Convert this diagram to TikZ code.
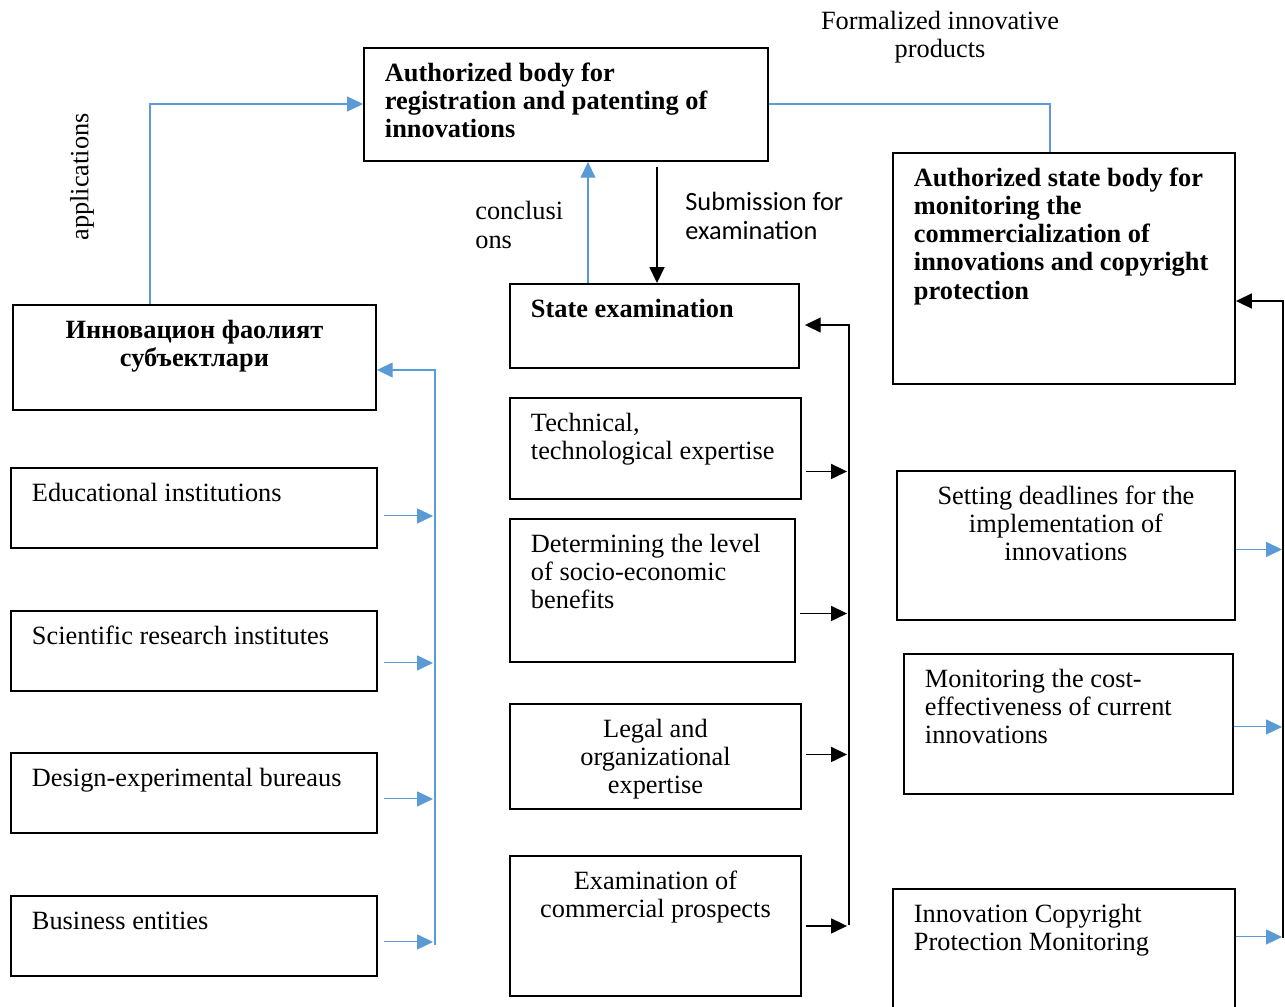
\documentclass[tikz,border=0pt]{standalone}
\usepackage{fontspec}
\setmainfont{Liberation Serif}
\newfontfamily\calibri{Carlito}
\usetikzlibrary{arrows.meta,calc}
\definecolor{lineblue}{RGB}{91,155,213}
\newlength{\px}\setlength{\px}{0.02cm}
% box text: width and height of the box in px, then the text
\newcommand{\bx}[3]{\parbox[t][\dimexpr#2\px-28\px\relax][t]{\dimexpr#1\px-42\px\relax}{\strut#3}}
\begin{document}
\begin{tikzpicture}[x=0.02cm, y=-0.02cm,
    every node/.style={font=\fontsize{15}{16}\selectfont},
    box/.style={draw, line width=1.1pt, anchor=north west, inner xsep=0.42cm, inner ysep=0.28cm},
    hbox/.style={box, font=\fontsize{15}{16}\selectfont\bfseries},
    lab/.style={inner sep=0pt, align=left},
    kline/.style={line width=0.8pt},
    bline/.style={lineblue, line width=0.6pt},
    arr/.style={-{Triangle[length=9pt,width=8.5pt]}}]
  \useasboundingbox (0,0) rectangle (1285,1007);

  % top boxes
  \node[hbox] (reg) at (363,47) {\bx{404}{113}{Authorized body for\\registration and patenting of\\innovations}};
  \node[hbox] (stb) at (892,152) {\bx{342}{231}{Authorized state body for\\monitoring the\\commercialization of\\innovations and copyright\\protection}};

  % left column
  \node[hbox] (subj) at (12,304) {\bx{363}{105}{\centering Инновацион фаолият\\субъектлари}};
  \node[box] (edu) at (10,467) {\bx{366}{80}{Educational institutions}};
  \node[box] (sci) at (10,610) {\bx{366}{80}{Scientific research institutes}};
  \node[box] (des) at (10,752) {\bx{366}{80}{Design-experimental bureaus}};
  \node[box] (biz) at (10,895) {\bx{366}{80}{Business entities}};

  % middle column
  \node[hbox] (exam) at (509,283) {\bx{289}{84}{State examination}};
  \node[box] (tech) at (509,397) {\bx{291}{101}{Technical,\\technological expertise}};
  \node[box] (soc) at (509,518) {\bx{285}{143}{Determining the level\\of socio-economic\\benefits}};
  \node[box] (legal) at (509,703) {\bx{291}{105}{\centering Legal and\\organizational\\expertise}};
  \node[box] (comm) at (509,855) {\bx{291}{140}{\centering Examination of\\commercial prospects}};

  % right column
  \node[box] (dead) at (896,470) {\bx{338}{149}{\centering Setting deadlines for the\\implementation of\\innovations}};
  \node[box] (cost) at (903,653) {\bx{329}{140}{Monitoring the cost-\\effectiveness of current\\innovations}};
  \node[box] (copy) at (892,888) {\bx{342}{140}{Innovation Copyright\\Protection Monitoring}};

  % labels
  \node[lab, rotate=90] (applab) at (82,177) {applications};
  \node[lab, align=center] (formlab) at (940,37) {Formalized innovative\\products};
  \node[lab, anchor=west] (conlab) at (475,225) {conclusi\\ons};
  \node[lab, anchor=west, font=\fontsize{15}{16.5}\selectfont\calibri] (sublab) at (685,216) {Submission for\\examination};

  \coordinate (appl) at (150,104);
  \coordinate (form) at (1050,104);
  \coordinate (concl) at (588,0);
  \coordinate (subm) at (657,0);
  \coordinate (lbus) at (435,370);
  \coordinate (lbusend) at (435,945);
  \coordinate (mbus) at (849,325);
  \coordinate (mbusend) at (849,925);
  \coordinate (rbus) at (1283,301);
  \coordinate (rbusend) at (1283,938);

  % top connectors
  \draw[bline, arr] (subj.north -| appl) -- (appl) -- (appl -| reg.west);
  \draw[bline] (reg.east |- form) -- (form) -- (form |- stb.north);
  \draw[bline, arr] (exam.north -| concl) -- (reg.south -| concl);
  \draw[kline, arr] ([yshift=-5\px]reg.south -| subm) -- (exam.north -| subm);

  % left bus
  \draw[bline, arr] (lbusend) -- (lbus) -- (lbus -| subj.east);
  \foreach \n/\d in {edu/8, sci/12, des/6, biz/6}
    \draw[bline, arr] ($(\n.east)+(6,\d)$) -- ($(\n.east -| lbus)+(-2,\d)$);

  % middle bus
  \draw[kline, arr] (mbusend) -- (mbus) -- ([xshift=5\px]mbus -| exam.east);
  \foreach \n/\d in {tech/23, soc/23, legal/-2, comm/0}
    \draw[kline, arr] ($(\n.east)+(4,\d)$) -- ($(\n.east -| mbus)+(-2,\d)$);

  % right bus
  \draw[kline, arr] (rbusend) -- (rbus) -- (rbus -| stb.east);
  \foreach \n/\d in {dead/4, cost/3, copy/-22}
    \draw[bline, arr] ($(\n.east)+(0,\d)$) -- ($(\n.east -| rbus)+(-1,\d)$);
\end{tikzpicture}
\end{document}
